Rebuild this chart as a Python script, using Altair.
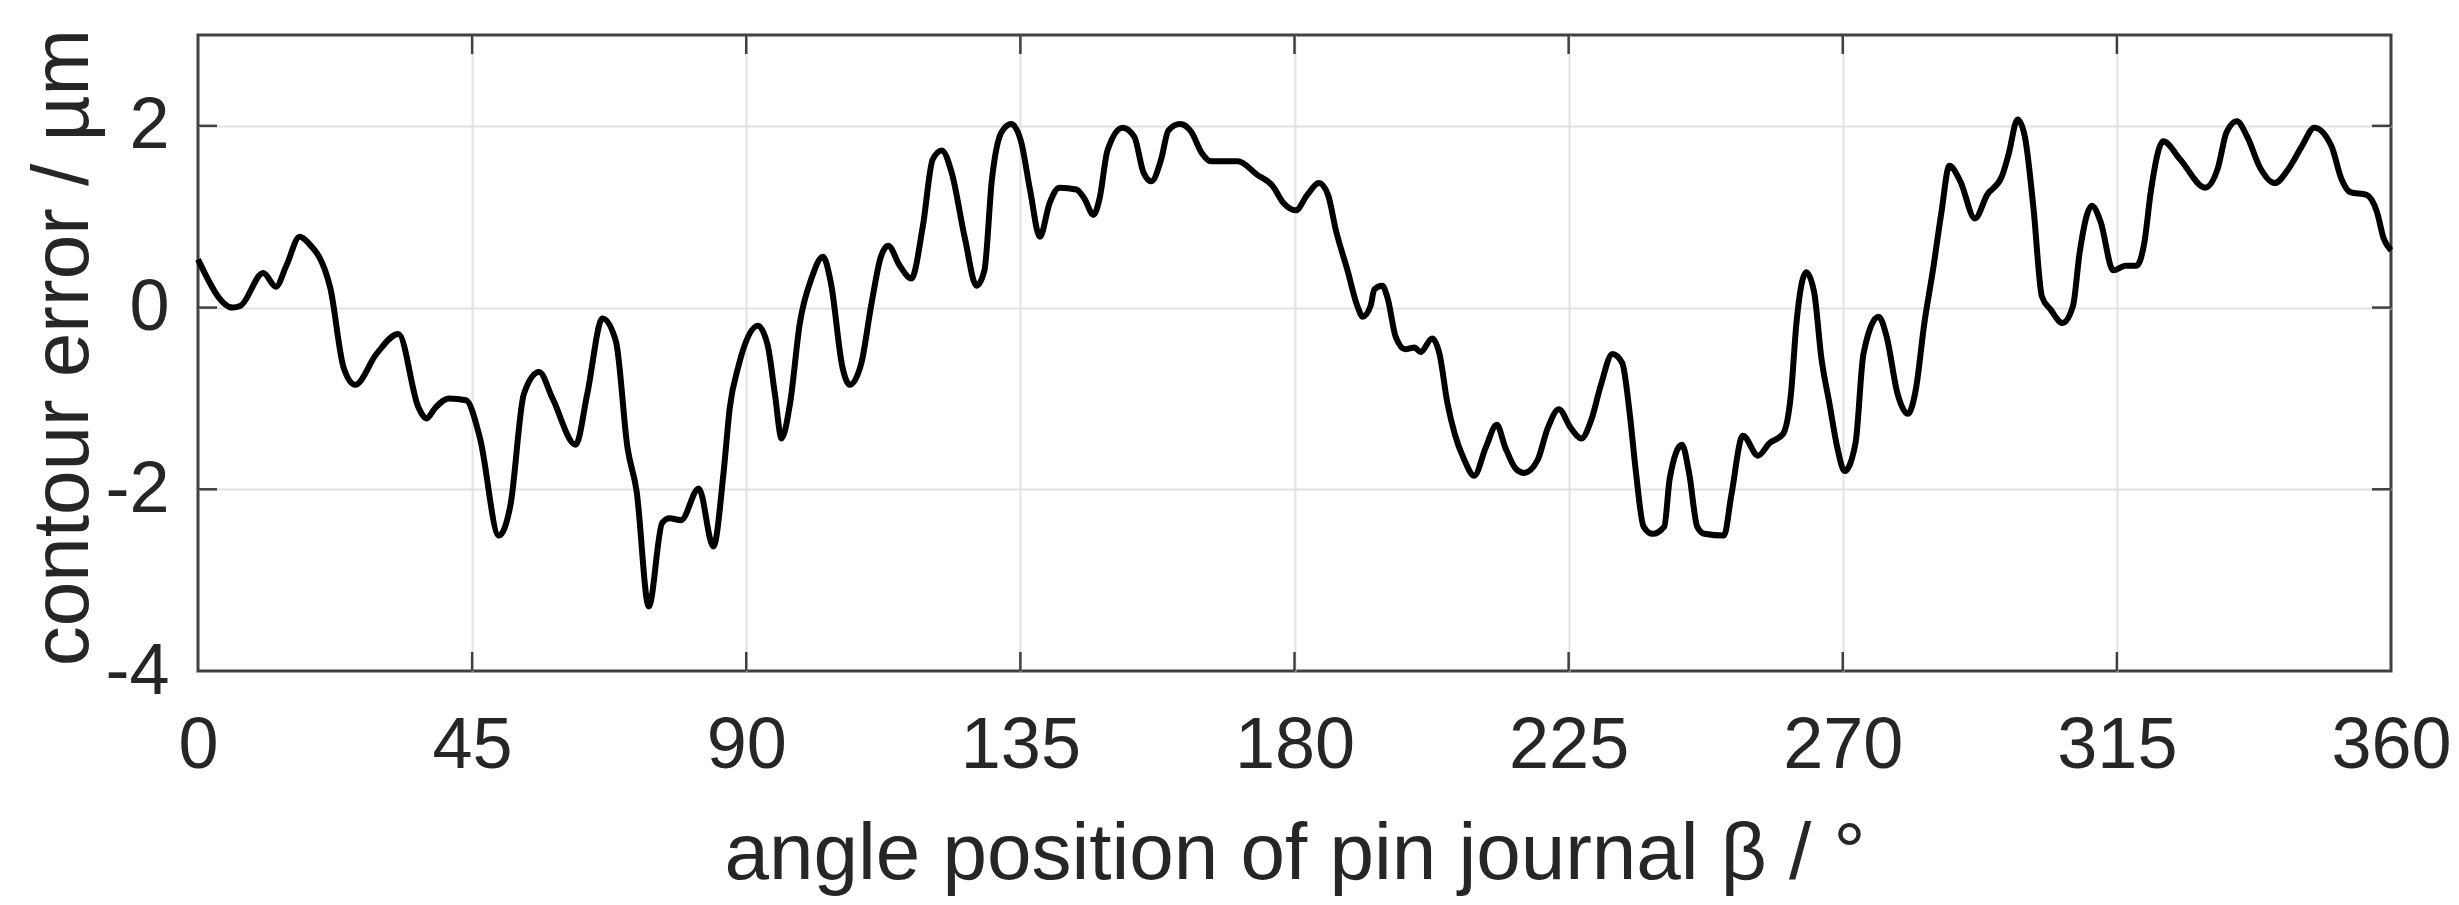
import altair as alt
import pandas as pd

# ---- data ----
angle = [0, 5.7, 7, 10.7, 12.8, 14.5, 16.7, 18, 21.7, 23.9, 25.8, 29.3, 32.9, 36.2, 37.5, 39,
         41.2, 44, 46.3, 49.4, 51.3, 53.5, 56, 58.2, 62, 63.9, 66.4, 68.6, 70.5, 72, 74, 76.2,
         77.4, 79.3, 82.2, 84.6, 86.3, 87.3, 88.7, 91.9, 93.5, 94.7, 95.8, 97.2, 98.8, 100.7,
         102.6, 103.9, 105.8, 107, 108.9, 110.5, 112.1, 113.3, 115.2, 117.1, 119, 120.6, 122.1,
         123.7, 125.9, 127.8, 129.1, 130.3, 131.9, 133.5, 135.1, 136.6, 138.2, 139.8, 141.4,
         144.2, 145.5, 147, 148, 149.3, 151.8, 153.7, 155.2, 156.5, 158.1, 159.3, 161.2, 163.1,
         164.7, 166.3, 170.7, 173.9, 176.4, 178.2, 180.2, 182.1, 184, 185.5, 186.8, 188.7, 190.3,
         191.2, 192.5, 193.1, 194.4, 195.3, 196.6, 198.2, 199.7, 200.7, 202.6, 203.8, 205.1,
         206.3, 207.9, 209.5, 211.4, 213.2, 214.6, 216.4, 217.7, 219.9, 221.5, 223.4, 225.3,
         227.1, 228.7, 230.3, 232.2, 233.8, 235, 236, 237.3, 238.8, 240.7, 241.6, 243.6, 244.8,
         246.1, 247.3, 250.5, 251.7, 253.6, 256.1, 258, 260.2, 261.5, 262.4, 264, 265.3, 266.5,
         267.8, 269.1, 270.3, 272.1, 273.4, 275.9, 277.2, 279, 280.7, 282, 283.4, 284.8, 286.2,
         287.5, 289.3, 291.7, 293.7, 296.1, 297.2, 298.7, 299.9, 301.3, 302.7, 304.1, 306.1,
         307.8, 308.9, 310.9, 312.3, 314.4, 316.4, 318.2, 319.5, 320.6, 322.6, 325.4, 329.5,
         331.6, 333, 334.7, 336.4, 338.5, 340.9, 343.3, 345.4, 347.4, 350.2, 351.9, 353.3, 356,
         357.7, 358.8, 360]
error = [0.53, 0.0, 0.02, 0.38, 0.23, 0.46, 0.78, 0.72, 0.22, -0.66, -0.85, -0.51, -0.29, -1.1,
         -1.22, -1.1, -1.0, -1.02, -1.44, -2.51, -2.17, -0.95, -0.71, -1.0, -1.51, -0.95, -0.12,
         -0.37, -1.54, -2.02, -3.29, -2.37, -2.32, -2.34, -1.99, -2.63, -1.8, -1.1, -0.65, -0.2,
         -0.41, -0.95, -1.44, -1.05, -0.17, 0.32, 0.56, 0.27, -0.66, -0.85, -0.61, 0.02, 0.56,
         0.68, 0.46, 0.32, 0.9, 1.63, 1.73, 1.49, 0.76, 0.24, 0.41, 1.39, 1.93, 2.02, 1.83, 1.29,
         0.78, 1.15, 1.32, 1.3, 1.2, 1.02, 1.2, 1.73, 1.98, 1.88, 1.49, 1.39, 1.63, 1.95, 2.02,
         1.93, 1.71, 1.61, 1.61, 1.46, 1.34, 1.15, 1.07, 1.24, 1.37, 1.24, 0.85, 0.41, 0.02, -0.1,
         0.02, 0.2, 0.24, 0.1, -0.32, -0.46, -0.44, -0.49, -0.34, -0.51, -1.05, -1.39, -1.68,
         -1.85, -1.54, -1.29, -1.54, -1.78, -1.82, -1.68, -1.34, -1.12, -1.32, -1.44, -1.24,
         -0.85, -0.51, -0.61, -1.15, -1.78, -2.41, -2.49, -2.41, -1.88, -1.51, -1.83, -2.41,
         -2.49, -2.51, -2.07, -1.41, -1.63, -1.49, -1.39, -0.95, -0.17, 0.39, 0.17, -0.56, -1.05,
         -1.54, -1.8, -1.49, -0.51, -0.1, -0.32, -0.95, -1.17, -0.9, -0.17, 0.41, 1.05, 1.56,
         1.39, 0.98, 1.24, 1.44, 1.68, 2.07, 1.88, 1.1, 0.12, -0.02, -0.17, 0.02, 0.61, 1.12,
         0.95, 0.41, 0.46, 0.46, 0.71, 1.29, 1.83, 1.63, 1.32, 1.54, 1.93, 2.05, 1.88, 1.54,
         1.37, 1.54, 1.78, 1.98, 1.78, 1.41, 1.27, 1.24, 1.05, 0.76, 0.63]

x_ticks = [0, 45, 90, 135, 180, 225, 270, 315, 360]
y_ticks = [-4, -2, 0, 2]
x_inner = [45, 90, 135, 180, 225, 270, 315]
y_inner = [-2, 0, 2]

x_title = "angle position of pin journal β / °"
y_title = "contour error / µm"

# ---- styling ----
W, H = 2193, 636
FONT = "Liberation Sans"
TEXT = "#262626"
BOX = "#404040"
GRID = "#e1e1e1"
TICK = 19
LABEL_SIZE = 72
TITLE_SIZE = 80

df = pd.DataFrame({"angle": angle, "error": error})
xt = pd.DataFrame({"angle": x_inner})
yt = pd.DataFrame({"error": y_inner})

xscale = alt.Scale(domain=[0, 360], nice=False, zero=False)
yscale = alt.Scale(domain=[-4, 3], nice=False, zero=False)

x_axis = alt.Axis(
    values=x_ticks, title=x_title, grid=True, gridColor=GRID, gridWidth=2,
    gridOpacity={"condition": {"test": "datum.value == 0 || datum.value == 360", "value": 0}, "value": 1},
    ticks=False, tickSize=0, domain=False, labelFont=FONT, labelFontSize=LABEL_SIZE,
    labelColor=TEXT, labelPadding=39, labelFlush=False, labelOverlap=False,
    labelExpr="'' + datum.value", titleFont=FONT, titleFontSize=TITLE_SIZE,
    titleFontWeight="normal", titleColor=TEXT, titleY=207, titleBaseline="alphabetic",
)
y_axis = alt.Axis(
    values=y_ticks, title=y_title, grid=True, gridColor=GRID, gridWidth=2,
    gridOpacity={"condition": {"test": "datum.value == -4", "value": 0}, "value": 1},
    ticks=False, tickSize=0, domain=False, labelFont=FONT, labelFontSize=LABEL_SIZE,
    labelColor=TEXT, labelPadding=29, labelOverlap=False,
    labelExpr="'' + datum.value", titleFont=FONT, titleFontSize=TITLE_SIZE,
    titleFontWeight="normal", titleColor=TEXT, titleX=-111, titleY=312,
    titleAngle=270, titleAlign="center", titleBaseline="alphabetic",
)

line = alt.Chart(df).mark_line(
    color="black", strokeWidth=6, interpolate="monotone", strokeJoin="round"
).encode(
    x=alt.X("angle:Q", scale=xscale, axis=x_axis),
    y=alt.Y("error:Q", scale=yscale, axis=y_axis),
)

top_ticks = alt.Chart(xt).mark_rule(color=BOX, strokeWidth=2.5).encode(
    x=alt.X("angle:Q", scale=xscale), y=alt.value(0), y2=alt.value(TICK)
)
bottom_ticks = alt.Chart(xt).mark_rule(color=BOX, strokeWidth=2.5).encode(
    x=alt.X("angle:Q", scale=xscale), y=alt.value(H), y2=alt.value(H - TICK)
)
left_ticks = alt.Chart(yt).mark_rule(color=BOX, strokeWidth=2.5).encode(
    y=alt.Y("error:Q", scale=yscale), x=alt.value(0), x2=alt.value(TICK)
)
right_ticks = alt.Chart(yt).mark_rule(color=BOX, strokeWidth=2.5).encode(
    y=alt.Y("error:Q", scale=yscale), x=alt.value(W), x2=alt.value(W - TICK)
)

chart = alt.layer(line, top_ticks, bottom_ticks, left_ticks, right_ticks).properties(
    width=W, height=H,
    padding={"left": 190, "top": 27, "right": 60, "bottom": 226},
    autosize=alt.AutoSizeParams(type="none"),
    background="white",
).configure_view(stroke=BOX, strokeWidth=3)

chart.save("out.html", embed_options={"renderer": "svg", "actions": False})
